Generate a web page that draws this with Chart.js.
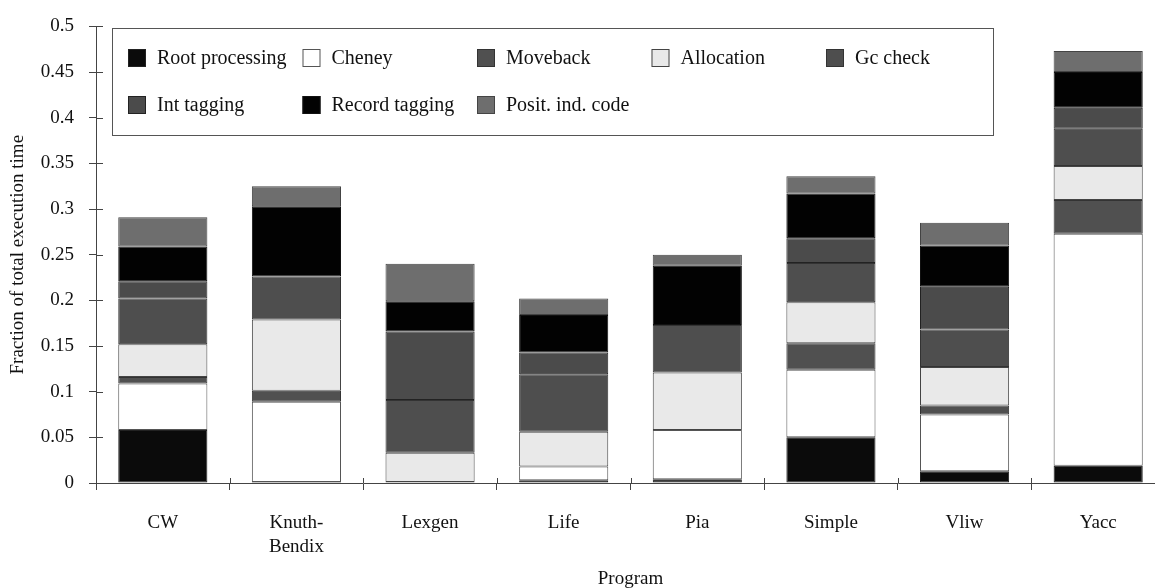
<!DOCTYPE html>
<html>
<head>
<meta charset="utf-8">
<script src="https://cdn.jsdelivr.net/npm/chart.js@4"></script>
<style>
  html, body { margin:0; padding:0; background:#fff; overflow:hidden; }
  #wrap { width:1170px; height:588px; position:relative; }
</style>
</head>
<body>
<div id="wrap"><canvas id="chart"></canvas></div>
<script>
const programs = ["CW", ["Knuth-","Bendix"], "Lexgen", "Life", "Pia", "Simple", "Vliw", "Yacc"];

const rootProcessing = [0.058, 0.001, 0.000, 0.003, 0.004, 0.050, 0.013, 0.019];
const cheney         = [0.051, 0.088, 0.001, 0.015, 0.054, 0.074, 0.062, 0.254];
const moveback       = [0.007, 0.012, 0.000, 0.000, 0.000, 0.029, 0.010, 0.037];
const allocation     = [0.036, 0.078, 0.032, 0.038, 0.063, 0.045, 0.042, 0.037];
const gcCheck        = [0.050, 0.047, 0.058, 0.063, 0.052, 0.043, 0.041, 0.041];
const intTagging     = [0.019, 0.000, 0.075, 0.024, 0.000, 0.027, 0.047, 0.023];
const recordTagging  = [0.038, 0.077, 0.033, 0.041, 0.065, 0.049, 0.045, 0.039];
const positIndCode   = [0.032, 0.022, 0.041, 0.018, 0.012, 0.019, 0.025, 0.023];

const yTickLabels = ["0","0.05","0.1","0.15","0.2","0.25","0.3","0.35","0.4","0.45","0.5"];

const FONT = "'Liberation Serif', 'DejaVu Serif', serif";
const INK = "#111";
const AXIS = "#444";

function ds(label, data, fill, edge){
  return {
    label: label,
    data: data,
    backgroundColor: fill,
    borderColor: edge || "#333",
    borderWidth: 1,
    borderSkipped: false,
    barPercentage: 0.667,
    categoryPercentage: 1.0
  };
}

// inward half of the cross-shaped ticks on both axes
const crossTicks = {
  id: "crossTicks",
  afterDatasetsDraw(chart){
    const c = chart.ctx, x = chart.scales.x, y = chart.scales.y;
    c.save();
    c.strokeStyle = AXIS;
    c.lineWidth = 1;
    c.beginPath();
    y.ticks.forEach((t, i) => {
      const py = Math.round(y.getPixelForTick(i)) + 0.5;
      c.moveTo(y.right, py);
      c.lineTo(y.right + 7, py);
    });
    for (let i = 1; i < programs.length; i++){
      const px = Math.round((x.getPixelForValue(i - 1) + x.getPixelForValue(i)) / 2) + 0.5;
      c.moveTo(px, x.top);
      c.lineTo(px, x.top - 5);
    }
    c.stroke();
    c.restore();
  }
};

// boxed legend laid out in a fixed grid, like the original figure
const boxLegend = {
  id: "boxLegend",
  afterDraw(chart){
    const c = chart.ctx;
    const cols = 5, colW = 174.5, x0 = 128, rowY = [58, 105];
    c.save();
    c.fillStyle = "#fff";
    c.fillRect(112.5, 28.5, 881, 107);
    c.strokeStyle = "#555";
    c.lineWidth = 1;
    c.strokeRect(112.5, 28.5, 881, 107);
    c.font = "20px " + FONT;
    c.textBaseline = "middle";
    chart.data.datasets.forEach((d, i) => {
      const bx = x0 + (i % cols) * colW;
      const by = rowY[Math.floor(i / cols)];
      c.fillStyle = d.backgroundColor;
      c.fillRect(bx, by - 9, 18, 18);
      c.strokeStyle = d.borderColor;
      c.strokeRect(bx + 0.5, by - 8.5, 17, 17);
      c.fillStyle = INK;
      c.fillText(d.label, bx + 29, by + 1);
    });
    c.restore();
  }
};

new Chart(document.getElementById("chart"), {
  type: "bar",
  data: {
    labels: programs,
    datasets: [
      ds("Root processing", rootProcessing, "#0b0b0b", "#222"),
      ds("Cheney", cheney, "#ffffff", "#555"),
      ds("Moveback", moveback, "#505050", "#333"),
      ds("Allocation", allocation, "#e9e9e9", "#444"),
      ds("Gc check", gcCheck, "#4e4e4e", "#333"),
      ds("Int tagging", intTagging, "#4b4b4b", "#222"),
      ds("Record tagging", recordTagging, "#020202", "#111"),
      ds("Posit. ind. code", positIndCode, "#6e6e6e", "#444")
    ]
  },
  options: {
    responsive: true,
    maintainAspectRatio: false,
    animation: false,
    layout: { padding: { top: 15, right: 5, left: 0, bottom: 0 } },
    plugins: {
      legend: { display: false },
      tooltip: { enabled: false }
    },
    scales: {
      x: {
        stacked: true,
        afterFit(s){ s.height = 105; },
        grid: { drawOnChartArea: false, offset: true, tickLength: 7, color: AXIS, lineWidth: 1 },
        border: { color: AXIS, width: 1 },
        ticks: {
          color: INK, padding: 21, maxRotation: 0, autoSkip: false,
          font: { family: FONT, size: 19, lineHeight: 1.26 }
        },
        title: {
          display: true, text: "Program", color: INK,
          font: { family: FONT, size: 19, lineHeight: 0.9 },
          padding: { top: 0, bottom: 0 }
        }
      },
      y: {
        stacked: true,
        min: 0, max: 0.5,
        afterFit(s){ s.width = 96; },
        grid: { drawOnChartArea: false, tickLength: 7, color: AXIS, lineWidth: 1 },
        border: { color: AXIS, width: 1 },
        ticks: {
          stepSize: 0.05, color: INK, padding: 15,
          font: { family: FONT, size: 19 },
          callback: (v, i) => yTickLabels[i]
        },
        title: {
          display: true, text: "Fraction of total execution time", color: INK,
          font: { family: FONT, size: 19, lineHeight: 1.2 },
          padding: { top: 7, bottom: 0 }
        }
      }
    }
  },
  plugins: [crossTicks, boxLegend]
});
</script>
</body>
</html>
